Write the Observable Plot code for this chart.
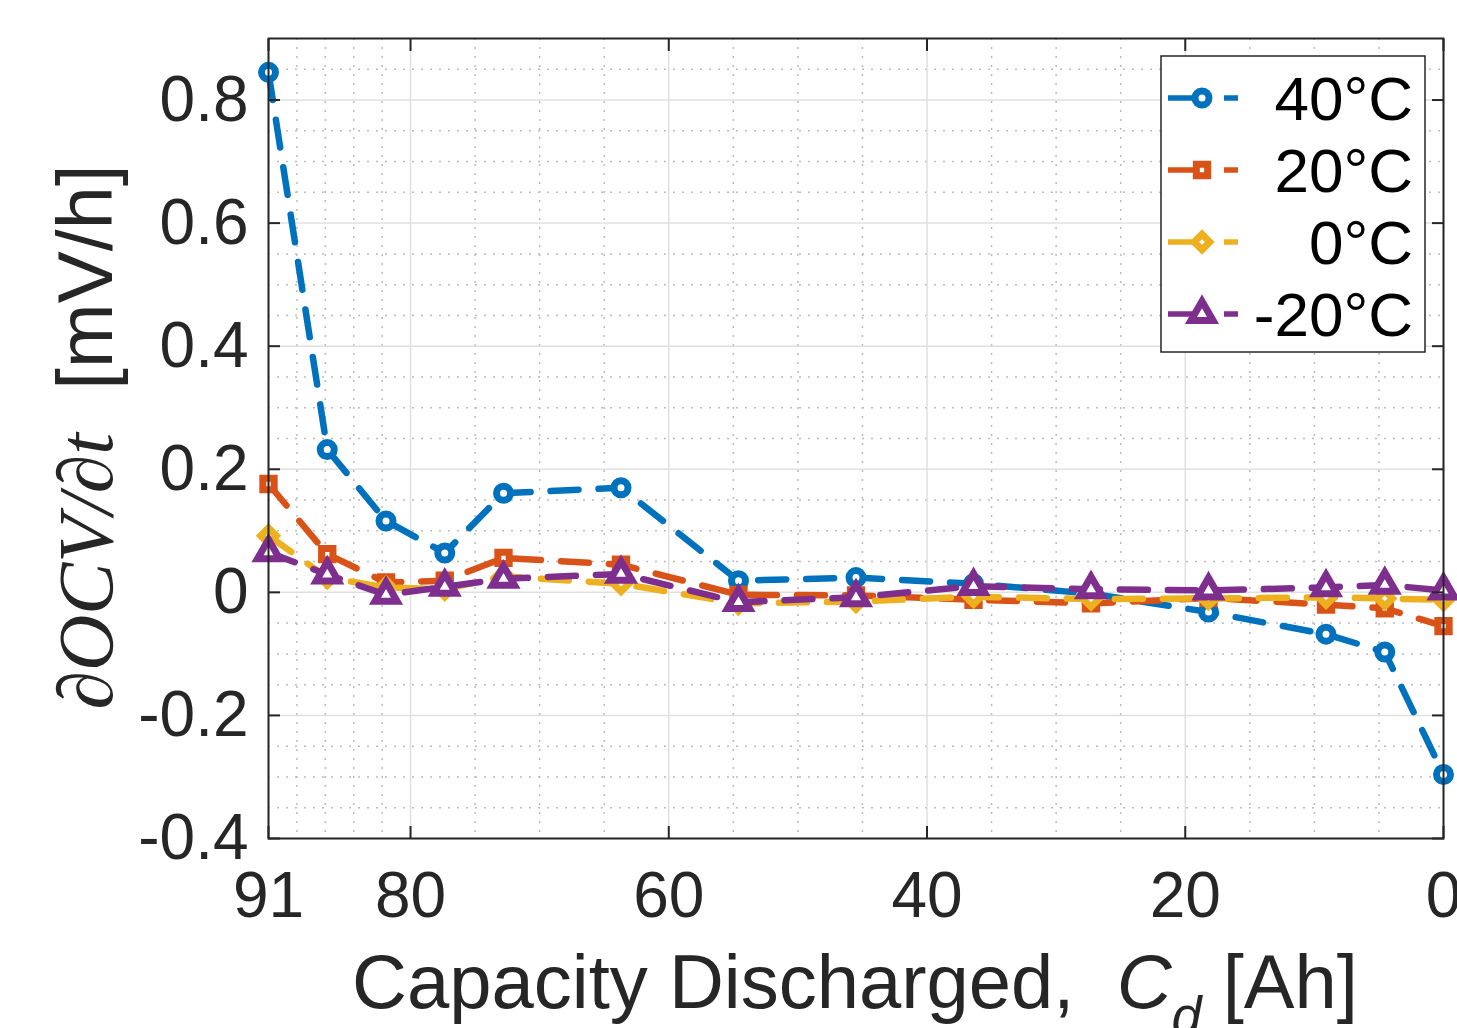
<!DOCTYPE html>
<html><head><meta charset="utf-8">
<script src="https://cdn.jsdelivr.net/npm/d3@7"></script>
<script src="https://cdn.jsdelivr.net/npm/@observablehq/plot@0.6"></script>
<style>
html,body{margin:0;padding:0;background:#fff;}
#chart{position:relative;width:1457px;height:1028px;overflow:hidden;}
#chart svg{font-family:"Liberation Sans",Arial,sans-serif;}
</style></head><body><div id="chart"></div>
<script>
// ---- data ----
const capacity = [91, 86.45, 81.9, 77.35, 72.8, 63.7, 54.6, 45.5, 36.4, 27.3, 18.2, 9.1, 4.55, 0];
const seriesNames = ["40°C", "20°C", "0°C", "-20°C"];
const v40 = [0.845, 0.232, 0.116, 0.064, 0.161, 0.170, 0.019, 0.024, 0.014, -0.002, -0.032, -0.068, -0.097, -0.296];
const v20 = [0.176, 0.062, 0.016, 0.019, 0.056, 0.045, -0.004, -0.005, -0.012, -0.018, -0.009, -0.020, -0.026, -0.055];
const v0 = [0.092, 0.024, 0.008, 0.005, 0.026, 0.014, -0.018, -0.015, -0.007, -0.011, -0.010, -0.008, -0.010, -0.012];
const vm20 = [0.065, 0.029, -0.004, 0.009, 0.022, 0.030, -0.016, -0.008, 0.010, 0.005, 0.003, 0.008, 0.012, 0.003];
const xTicks = [91, 80, 60, 40, 20, 0];
const xMinor = [88.8, 86.6, 84.4, 82.2, 75, 70, 65, 55, 50, 45, 35, 30, 25, 15, 10, 5];
const yTicks = [-0.4, -0.2, 0, 0.2, 0.4, 0.6, 0.8];
const yMinor = [-0.35, -0.3, -0.25, -0.15, -0.1, -0.05, 0.05, 0.1, 0.15, 0.25, 0.3, 0.35, 0.45, 0.5, 0.55, 0.65, 0.7, 0.75, 0.85];
const colors = ["#0072BD", "#D95319", "#EDB120", "#7E2F8E"];
const symbols = ["circle", "square", "diamond2", "triangle"];
const xLabel = "Capacity Discharged,  ";
const xLabelVar = "C";
const xLabelSub = "d";
const xLabelUnit = " [Ah]";
const yLabelMath = "∂OCV/∂t";
const yLabelUnit = "  [mV/h]";

const values = [v40, v20, v0, vm20];
const data = [];
seriesNames.forEach((s, i) => capacity.forEach((c, j) => data.push({series: s, capacity: c, value: values[i][j]})));

const dash = "28,20";
const symR = [7, 6.4, 7, 8.2];
const symSW = [7, 7, 7, 7];

const seriesMarks = [];
seriesNames.forEach((s, i) => {
  const d = data.filter(e => e.series === s);
  seriesMarks.push(Plot.line(d, {x: "capacity", y: "value", stroke: colors[i], strokeWidth: 6.5, strokeDasharray: dash}));
  seriesMarks.push(Plot.dot(d, {x: "capacity", y: "value", symbol: symbols[i], r: symR[i], stroke: colors[i], strokeWidth: symSW[i], fill: "white"}));
});

const fmt = d => String(+d.toFixed(2));
const ink = "#262626";

const chart = Plot.plot({
  width: 1457, height: 1028,
  marginLeft: 268, marginRight: 14, marginTop: 38, marginBottom: 190,
  x: {type: "linear", domain: [91, 0]},
  y: {type: "linear", domain: [-0.4, 0.9]},
  style: {fontFamily: '"Liberation Sans", Arial, sans-serif', background: "white"},
  marks: [
    Plot.gridX(xMinor, {stroke: "#bcbcbc", strokeOpacity: 1, strokeWidth: 1.5, strokeDasharray: "2,7"}),
    Plot.gridY(yMinor, {stroke: "#bcbcbc", strokeOpacity: 1, strokeWidth: 1.5, strokeDasharray: "2,7"}),
    Plot.gridX(xTicks, {stroke: "#e0e0e0", strokeOpacity: 1, strokeWidth: 1.5}),
    Plot.gridY(yTicks, {stroke: "#e0e0e0", strokeOpacity: 1, strokeWidth: 1.5}),
    ...seriesMarks,
    Plot.frame({stroke: ink, strokeWidth: 2}),
    Plot.axisX(xTicks, {anchor: "bottom", tickSize: 0, tickPadding: 33, fontSize: 64, fill: ink, tickFormat: fmt, label: null}),
    Plot.axisY(yTicks, {anchor: "left", tickSize: 0, tickPadding: 20, fontSize: 64, fill: ink, tickFormat: fmt, label: null}),
    Plot.axisX(xTicks, {anchor: "bottom", tickSize: -12, stroke: ink, strokeWidth: 2, tickFormat: () => "", label: null}),
    Plot.axisX(xTicks, {anchor: "top", tickSize: -12, stroke: ink, strokeWidth: 2, tickFormat: () => "", label: null}),
    Plot.axisY(yTicks, {anchor: "left", tickSize: -12, stroke: ink, strokeWidth: 2, tickFormat: () => "", label: null}),
    Plot.axisY(yTicks, {anchor: "right", tickSize: -12, stroke: ink, strokeWidth: 2, tickFormat: () => "", label: null})
  ]
});
document.getElementById("chart").appendChild(chart);

const svg = d3.select(chart);
// x label
const xl = svg.append("text")
  .attr("x", 855).attr("y", 1008)
  .attr("text-anchor", "middle")
  .attr("font-size", 76).attr("fill", ink)
  .style("white-space", "pre");
xl.append("tspan").text(xLabel);
xl.append("tspan").attr("font-style", "italic").text(xLabelVar);
xl.append("tspan").attr("font-style", "italic").attr("font-size", 54).attr("dy", 26).text(xLabelSub);
xl.append("tspan").attr("dy", -26).text(xLabelUnit);

// y label
const yl = svg.append("text")
  .attr("transform", "translate(112,437) rotate(-90)")
  .attr("text-anchor", "middle")
  .attr("font-size", 78).attr("fill", ink)
  .style("white-space", "pre");
yl.append("tspan").attr("font-family", '"Liberation Serif", "DejaVu Serif", serif').attr("font-style", "italic").text(yLabelMath);
yl.append("tspan").text(yLabelUnit);

// legend
const lg = svg.append("g");
lg.append("rect").attr("x", 1161).attr("y", 56).attr("width", 264).attr("height", 296)
  .attr("fill", "white").attr("stroke", ink).attr("stroke-width", 1.5);
seriesNames.forEach((s, i) => {
  const cy = 98 + i * 72;
  lg.append("line").attr("x1", 1168).attr("x2", 1238).attr("y1", cy).attr("y2", cy)
    .attr("stroke", colors[i]).attr("stroke-width", 5.5).attr("stroke-dasharray", "38,18");
  const sym = {circle: d3.symbolCircle, square: d3.symbolSquare, diamond2: d3.symbolDiamond2, triangle: d3.symbolTriangle}[symbols[i]];
  lg.append("path").attr("d", d3.symbol(sym, symR[i] * symR[i] * Math.PI)())
    .attr("transform", `translate(1202,${cy})`)
    .attr("fill", "white").attr("stroke", colors[i]).attr("stroke-width", symSW[i]);
  lg.append("text").attr("x", 1413).attr("y", cy + 22).attr("text-anchor", "end")
    .attr("font-size", 62).attr("fill", "#000").text(s);
});
</script></body></html>
